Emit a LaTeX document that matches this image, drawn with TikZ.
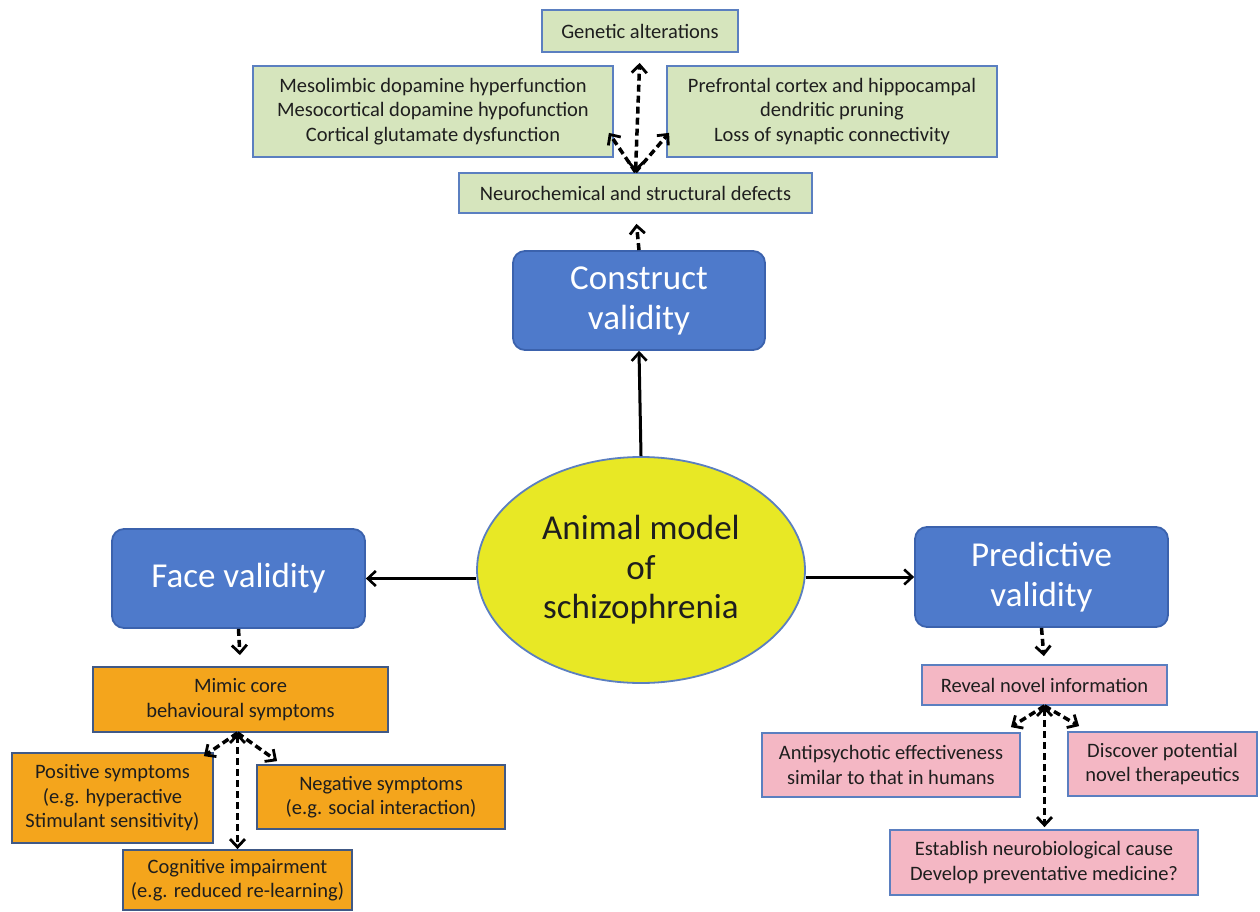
\documentclass[tikz,border=0pt]{standalone}
\usepackage{fontspec}
\setmainfont{Carlito}
\usetikzlibrary{arrows.meta,calc,shapes.geometric}
\definecolor{bluefill}{HTML}{4E7ACB}
\definecolor{blueborder}{HTML}{3B62AD}
\definecolor{greenfill}{HTML}{D6E5BD}
\definecolor{orangefill}{HTML}{F4A51C}
\definecolor{pinkfill}{HTML}{F4B7C4}
\definecolor{yellowfill}{HTML}{E8E825}
\definecolor{edgeblue}{HTML}{5B7FC0}
\definecolor{darktext}{HTML}{1E1E1E}
\tikzset{
  x=1pt, y=-1pt,
  box/.style={draw=edgeblue, line width=1.8pt, inner sep=0pt, align=center, text=darktext,
     font=\fontsize{20.5}{24.5}\selectfont},
  greenbox/.style={box, fill=greenfill},
  orangebox/.style={box, fill=orangefill, draw=edgeblue!70!black},
  pinkbox/.style={box, fill=pinkfill},
  bluebox/.style={draw=blueborder, fill=bluefill, line width=1.8pt, rounded corners=12pt,
     inner sep=0pt, align=center, text=white, font=\fontsize{35}{40}\selectfont},
  solidarrow/.style={line width=3pt, -{Straight Barb[length=8pt,width=15pt,line width=2.6pt]}},
  dasharrow/.style={line width=3.5pt, dash pattern=on 7pt off 4pt,
     -{Straight Barb[length=8pt,width=15pt,line width=2.8pt]}},
  dashboth/.style={line width=3.5pt, dash pattern=on 7pt off 4pt,
     {Straight Barb[length=8pt,width=15pt,line width=2.8pt]}-{Straight Barb[length=8pt,width=15pt,line width=2.8pt]}},
}
\begin{document}
\begin{tikzpicture}
\useasboundingbox (0,0) rectangle (1260,912);
\fill[white] (0,0) rectangle (1260,912);

% top (construct) branch
\node[greenbox, minimum width=196pt, minimum height=42pt] (genetic) at (640,31) {Genetic alterations};
\node[greenbox, minimum width=360pt, minimum height=91pt] (meso) at (433,111.5)
  {Mesolimbic dopamine hyperfunction\\Mesocortical dopamine hypofunction\\Cortical glutamate dysfunction};
\node[greenbox, minimum width=330pt, minimum height=91pt] (pref) at (832,111.5)
  {Prefrontal cortex and hippocampal\\dendritic pruning\\Loss of synaptic connectivity};
\node[greenbox, minimum width=353pt, minimum height=40pt] (neuro) at (635.5,193) {Neurochemical and structural defects};

\node[bluebox, minimum width=252pt, minimum height=99pt] (construct) at (639,300.5) {Construct\\validity};

% centre
\node[ellipse, draw=edgeblue, line width=1.8pt, fill=yellowfill, minimum width=328pt, minimum height=226pt,
      inner sep=0pt, align=center, text=darktext, font=\fontsize{35}{39.5}\selectfont] (animal) at (641,570)
  {Animal model\\of\\schizophrenia};

\node[bluebox, minimum width=253pt, minimum height=99pt] (face) at (238.5,578.5) {Face validity};
\node[bluebox, minimum width=253pt, minimum height=100pt] (predictive) at (1041.5,577) {Predictive\\validity};

% face branch
\node[orangebox, minimum width=295pt, minimum height=65pt] (mimic) at (240.5,699.5) {Mimic core\\behavioural symptoms};
\node[orangebox, minimum width=201pt, minimum height=90pt] (positive) at (112.5,798)
  {Positive symptoms\\(e.g. hyperactive\\Stimulant sensitivity)};
\node[orangebox, minimum width=248pt, minimum height=64pt] (negative) at (381,797)
  {Negative symptoms\\(e.g. social interaction)};
\node[orangebox, minimum width=229pt, minimum height=60pt] (cognitive) at (237.5,880)
  {Cognitive impairment\\(e.g. reduced re-learning)};

% predictive branch
\node[pinkbox, minimum width=245pt, minimum height=40pt] (reveal) at (1044.5,685) {Reveal novel information};
\node[pinkbox, minimum width=258pt, minimum height=64pt] (antipsy) at (891,765)
  {Antipsychotic effectiveness\\similar to that in humans};
\node[pinkbox, minimum width=189pt, minimum height=64pt] (discover) at (1162.5,764)
  {Discover potential\\novel therapeutics};
\node[pinkbox, minimum width=308pt, minimum height=65pt] (establish) at (1044,862.5)
  {Establish neurobiological cause\\Develop preventative medicine?};

% main solid connectors
\draw[solidarrow] (animal.north) -- (construct.south);
\draw[solidarrow] (animal.west |- face.east) -- (face.east);
\draw[solidarrow] (animal.east |- predictive.west) -- (predictive.west);

% construct branch connectors
\draw[dasharrow, shorten >=10pt] (construct.north) -- (neuro.south);
\coordinate (j1) at (neuro.north);
\draw[dashboth, shorten >=10pt] (j1) -- (genetic.south);
\draw[dasharrow] (j1) -- ($(meso.south east)+(-5,-25)$);
\draw[dasharrow] (j1) -- ($(pref.south west)+(3,-25)$);

% face branch connectors
\draw[dasharrow, shorten >=11pt] (face.south) -- (mimic.north);
\coordinate (j2) at ($(mimic.south)+(-3,0)$);
\draw[dasharrow] (j2) -- ($(positive.north east)+(-10,4)$);
\draw[dasharrow] (j2) -- ($(negative.north west)+(21,-3)$);
\draw[dashboth] (j2) -- (j2 |- cognitive.north);

% predictive branch connectors
\draw[dasharrow, shorten >=8pt] (predictive.south) -- (reveal.north);
\coordinate (j3) at (reveal.south);
\draw[dasharrow] (j3) -- ($(antipsy.north east)+(-10,-5)$);
\draw[dasharrow] (j3) -- ($(discover.north west)+(12,-5)$);
\draw[dashboth, shorten >=2pt] (j3) -- (j3 |- establish.north);
\end{tikzpicture}
\end{document}
